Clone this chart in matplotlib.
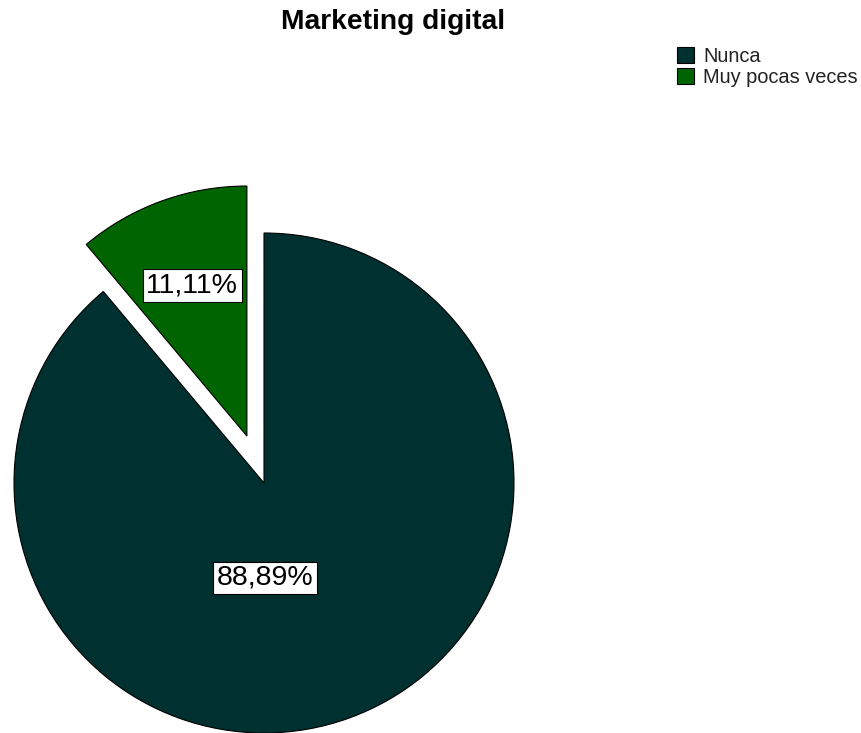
import numpy as np
import matplotlib.pyplot as plt

categories = ["Nunca", "Muy pocas veces"]
percents = [88.89, 11.11]
colors = ["#00302f", "#006400"]
explode = [0.0, 0.2]

plt.rcParams['font.family'] = ['Liberation Sans', 'DejaVu Sans']

W, H = 861, 733
fig = plt.figure(figsize=(W / 100, H / 100), dpi=100)

ax = fig.add_axes([0, 0, 1, 1])
wedges, _ = ax.pie(percents, colors=colors, explode=explode, startangle=90,
                   counterclock=False, radius=1.0,
                   wedgeprops=dict(edgecolor='black', linewidth=0.8))

# one data unit = radius in pixels, pie centre placed at (cx, cy) from top-left
cx, cy, r = 264, 483, 250
ax.set_aspect('auto')
ax.set_xlim(-cx / r, (W - cx) / r)
ax.set_ylim(-(H - cy) / r, cy / r)
ax.axis('off')

box = dict(boxstyle='square,pad=0.12', facecolor='white', edgecolor='black', linewidth=0.8)


def fmt(v):
    return ("%.2f%%" % v).replace('.', ',')


# small slice label along its bisector, big slice label below the centre
w = wedges[1]
ang = np.deg2rad((w.theta1 + w.theta2) / 2)
ox, oy = w.center
ax.text(ox + 0.64 * np.cos(ang), oy + 0.64 * np.sin(ang), fmt(percents[1]),
        ha='center', va='center', fontsize=20.5, fontweight='medium', bbox=box)
ax.text(0.004, -0.38, fmt(percents[0]), ha='center', va='center',
        fontsize=20.5, fontweight='medium', bbox=box)

fig.text(393 / W, 1 - 22 / H, "Marketing digital", ha='center', va='center',
         fontsize=20.3, fontweight='bold')

leg = fig.legend(wedges, categories, loc='upper left',
                 bbox_to_anchor=(677 / W, 1 - 47 / H), frameon=False,
                 fontsize=14.4, borderpad=0, borderaxespad=0, labelspacing=0.08,
                 handlelength=0.85, handleheight=0.85, handletextpad=0.45)
for t in leg.get_texts():
    t.set_color('#222222')

fig.savefig("out.png", dpi=100)
